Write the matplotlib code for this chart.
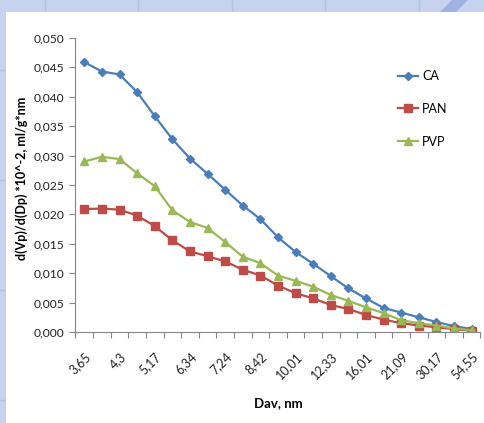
import numpy as np
import matplotlib
matplotlib.use("Agg")
import matplotlib.pyplot as plt
from matplotlib.patches import Rectangle, Polygon
from matplotlib.ticker import FuncFormatter, MultipleLocator

# every second category of Dav is labelled on the axis
tick_labels = ["3,65", "4,3", "5,17", "6,34", "7,24", "8,42",
               "10,01", "12,33", "16,01", "21,09", "30,17", "54,55"]

ca = [0.0459, 0.0443, 0.0438, 0.0408, 0.0367, 0.0328, 0.0295, 0.0269,
      0.0242, 0.0215, 0.0192, 0.0161, 0.0136, 0.0116, 0.0095, 0.0074,
      0.0057, 0.0041, 0.0033, 0.0025, 0.0017, 0.0010, 0.0005]
pan = [0.0209, 0.0210, 0.0208, 0.0198, 0.0180, 0.0156, 0.0137, 0.0129,
       0.0120, 0.0106, 0.0096, 0.0079, 0.0066, 0.0057, 0.0046, 0.0039,
       0.0029, 0.0021, 0.0015, 0.0011, 0.0008, 0.0005, 0.0002]
pvp = [0.0290, 0.0298, 0.0294, 0.0270, 0.0248, 0.0207, 0.0187, 0.0177,
       0.0153, 0.0128, 0.0117, 0.0096, 0.0087, 0.0077, 0.0063, 0.0053,
       0.0042, 0.0032, 0.0020, 0.0015, 0.0011, 0.0006, 0.0003]

plt.rcParams["font.family"] = ["Lato", "DejaVu Sans"]

W, H = 485, 423
fig = plt.figure(figsize=(W / 100, H / 100), dpi=100)
fig.patch.set_facecolor("#c7d2ee")

# slide background bits: white card, faint grid lines, diagonal stripe
for xv in [45, 138, 232, 325, 419]:
    fig.add_artist(plt.Line2D([xv / W, xv / W], [1 - 12 / H, 1], color="#b4c2e6",
                              lw=1, zorder=-10))
for yv in [70, 180, 290, 400]:
    fig.add_artist(plt.Line2D([0, 6 / W], [1 - yv / H, 1 - yv / H], color="#b4c2e6",
                              lw=1, zorder=-10))
fig.add_artist(Polygon([(440 / W, 1 - 12 / H), (456 / W, 1 - 12 / H),
                        (468 / W, 1), (452 / W, 1)],
                       closed=True, facecolor="#9fb2e2", edgecolor="none", zorder=-10))
fig.add_artist(Rectangle((6 / W, 0), 1 - 6 / W, 1 - 12 / H,
                         facecolor="white", edgecolor="none", zorder=-9))

ax = fig.add_axes([75.5 / W, 1 - 332 / H, 405 / W, 294 / H])
ax.set_facecolor("none")
x = np.arange(len(ca))

ax.plot(x, ca, color="#4a7ebb", lw=1.6, marker="D", ms=4, label="CA")
ax.plot(x, pan, color="#be4b48", lw=1.6, marker="s", ms=5.5, label="PAN")
ax.plot(x, pvp, color="#98b954", lw=1.6, marker="^", ms=5.5, label="PVP")

ax.set_xlim(-0.5, len(ca) - 0.5)
ax.set_ylim(0, 0.05)
ax.yaxis.set_major_locator(MultipleLocator(0.005))
ax.yaxis.set_major_formatter(FuncFormatter(lambda v, p: f"{v:.3f}".replace(".", ",")))

# category boundary tick marks, labels under every second point
ax.set_xticks(np.arange(-0.5, len(ca)), minor=True)
ax.set_xticks(x[::2])
ax.set_xticklabels(tick_labels, rotation=45, ha="right", rotation_mode="anchor")
ax.tick_params(axis="x", which="major", length=0, pad=13, labelsize=9, colors="#222222")
ax.tick_params(axis="x", which="minor", length=4, color="#868686", width=0.8)
ax.tick_params(axis="y", length=4, color="#868686", width=0.8, labelsize=8.7,
               labelcolor="#222222", pad=4)

for s in ["top", "right"]:
    ax.spines[s].set_visible(False)
for s in ["left", "bottom"]:
    ax.spines[s].set_color("#868686")
    ax.spines[s].set_linewidth(0.8)

ax.set_ylabel("d(Vp)/d(Dp) *10^-2, ml/g*nm", fontsize=9, fontweight="bold", va="center")
ax.yaxis.set_label_coords((22 - 75.5) / 405, (332 - 178) / 294)
ax.set_xlabel("Dav, nm", fontsize=9.5, fontweight="bold", va="center")
ax.xaxis.set_label_coords((278 - 75.5) / 405, (332 - 403) / 294)

ax.legend(loc="upper left", bbox_to_anchor=(392 / W, 1 - 64 / H),
          bbox_transform=fig.transFigure, frameon=False, fontsize=9,
          handlelength=1.6, handletextpad=0.3, labelspacing=1.65, borderpad=0)

fig.savefig("out.png", dpi=100, facecolor=fig.get_facecolor())
